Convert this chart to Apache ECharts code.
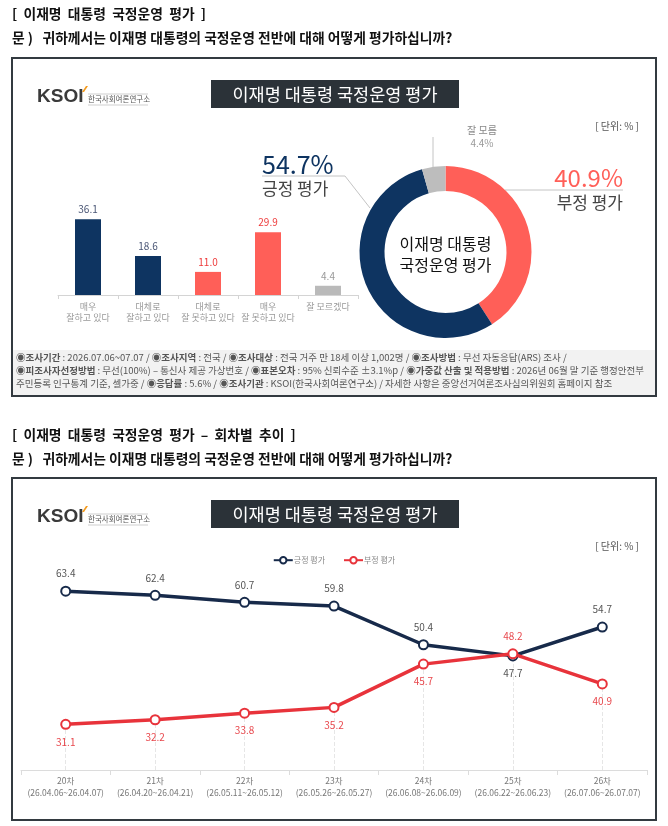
<!DOCTYPE html>
<html><head><meta charset="utf-8">
<script src="https://cdn.jsdelivr.net/npm/echarts@6/dist/echarts.min.js"></script>
<style>html,body{margin:0;padding:0;background:#fff}#c{width:668px;height:826px}</style>
</head><body><div id="c"></div>
<script>
// ---------- data ----------
const barCategories = ['매우\n잘하고 있다', '대체로\n잘하고 있다', '대체로\n잘 못하고 있다', '매우\n잘 못하고 있다', '잘 모르겠다'];
const barValues = [36.1, 18.6, 11.0, 29.9, 4.4];
const pieNames = ['부정 평가', '긍정 평가', '잘 모름'];
const pieValues = [40.9, 54.7, 4.4];
const roundLabels = ['20차', '21차', '22차', '23차', '24차', '25차', '26차'];
const roundDates = ['(26.04.06~26.04.07)', '(26.04.20~26.04.21)', '(26.05.11~26.05.12)', '(26.05.26~26.05.27)', '(26.06.08~26.06.09)', '(26.06.22~26.06.23)', '(26.07.06~26.07.07)'];
const positiveTrend = [63.4, 62.4, 60.7, 59.8, 50.4, 47.7, 54.7];
const negativeTrend = [31.1, 32.2, 33.8, 35.2, 45.7, 48.2, 40.9];
const seriesNames = ['긍정 평가', '부정 평가'];

// ---------- styles ----------
const F = '"Noto Sans CJK KR", "Noto Sans", sans-serif';
const NAVY = '#0e3461';
const SALMON = '#ff5f58';
const GRAY = '#bababa';
const LNAVY = '#172a4a';
const LRED = '#e8333b';

const chart = echarts.init(document.getElementById('c'), null, {renderer: 'canvas'});

function header(y1, t1, y2, t2) {
  return [
    {type: 'text', left: 12, top: y1 - 10, style: {text: t1, font: 'bold 13.8px ' + F, fill: '#111'}},
    {type: 'text', left: 12, top: y2 - 10, style: {text: t2, font: 'bold 13.8px ' + F, fill: '#111'}}
  ];
}
function logo(cy) {
  return [
    {type: 'text', left: 37, top: cy - 13, style: {text: 'KSOI', font: 'bold 19px "Liberation Sans", Arial, sans-serif', fill: '#3a3a3a'}},
    {type: 'polygon', shape: {points: [[82, cy - 8], [84, cy - 8], [88, cy - 14], [86, cy - 14]]}, style: {fill: '#f39a1e'}},
    {type: 'line', shape: {x1: 88, y1: cy - 6, x2: 148, y2: cy - 6}, style: {stroke: '#cfcfcf', lineWidth: 1}},
    {type: 'line', shape: {x1: 88, y1: cy + 5, x2: 148, y2: cy + 5}, style: {stroke: '#cfcfcf', lineWidth: 1}},
    {type: 'text', left: 88, top: cy - 5, style: {text: '한국사회여론연구소', font: '7.5px ' + F, fill: '#555'}}
  ];
}
function titleBar(top) {
  return [
    {type: 'rect', shape: {x: 211, y: top, width: 248, height: 28}, style: {fill: '#2b3238'}},
    {type: 'text', x: 335, y: top + 14, style: {text: '이재명 대통령 국정운영 평가', font: '17.5px ' + F, fill: '#fff', align: 'center', verticalAlign: 'middle'}}
  ];
}
function unit(cy) {
  return {type: 'text', x: 639, y: cy, style: {text: '[ 단위: % ]', font: '10px ' + F, fill: '#555', align: 'right', verticalAlign: 'middle'}};
}
const FS = 9.5;
const richFoot = {
  b: {fontFamily: F, fontSize: FS, fontWeight: 'bold', color: '#444'},
  n: {fontFamily: F, fontSize: FS, color: '#555'},
  g: {fontFamily: F, fontSize: FS, color: '#8a8a8a'}
};
const footLines = [
  '{b|◉조사기간}{n| : 2026.07.06~07.07 / }{b|◉조사지역}{n| : 전국 / }{b|◉조사대상}{n| : 전국 거주 만 18세 이상 1,002명 / }{b|◉조사방법}{n| : 무선 자동응답(ARS) 조사 /}',
  '{b|◉피조사자선정방법}{n| : 무선(100%) – 통신사 제공 가상번호 / }{b|◉표본오차}{n| : 95% 신뢰수준 ±3.1%p / }{b|◉가중값 산출 및 적용방법}{n| : 2026년 06월 말 기준 행정안전부}',
  '{n|주민등록 인구통계 기준, 셀가중 / }{b|◉응답률}{n| : 5.6% / }{b|◉조사기관}{n| : KSOI(한국사회여론연구소) / }{g|자세한 사항은 중앙선거여론조사심의위원회 홈페이지 참조}'
];

const graphics = [].concat(
  header(17, '[  이재명  대통령  국정운영  평가  ]', 41, '문 )   귀하께서는 이재명 대통령의 국정운영 전반에 대해 어떻게 평가하십니까?'),
  [{type: 'rect', shape: {x: 12, y: 58, width: 644, height: 338}, style: {fill: 'none', stroke: '#333a40', lineWidth: 2}}],
  logo(100), titleBar(80), [unit(126)],
  [{type: 'rect', shape: {x: 13, y: 350, width: 642, height: 45}, style: {fill: '#f2f2f2'}}],
  footLines.map((t, i) => ({type: 'text', left: 16, top: 353 + i * 13, style: {text: t, rich: richFoot, fill: '#555'}})),
  [{type: 'text', x: 445.5, y: 254, style: {text: '이재명 대통령\n국정운영 평가', font: '16px ' + F, fill: '#111', align: 'center', verticalAlign: 'middle', lineHeight: 21}}],
  header(438, '[  이재명  대통령  국정운영  평가  –  회차별  추이  ]', 462, '문 )   귀하께서는 이재명 대통령의 국정운영 전반에 대해 어떻게 평가하십니까?'),
  [{type: 'rect', shape: {x: 12, y: 478, width: 644, height: 342}, style: {fill: 'none', stroke: '#333a40', lineWidth: 2}}],
  logo(520), titleBar(500), [unit(546)]
);

const barColors = [NAVY, NAVY, SALMON, SALMON, GRAY];
const barLabelColors = ['#4a5675', '#4a5675', '#ee3a3a', '#ee3a3a', '#999'];

const pieColors = [SALMON, NAVY, '#bdbdbd'];
const pieLabelCfg = [
  {fmt: '{v|' + pieValues[0] + '%}\n{n|' + pieNames[0] + '}', rich: {v: {fontSize: 24, color: SALMON, lineHeight: 28, align: 'right', fontFamily: F}, n: {fontSize: 17, color: '#444', lineHeight: 22, align: 'right', fontFamily: F}}},
  {fmt: '{v|' + pieValues[1] + '%}\n{n|' + pieNames[1] + '}', rich: {v: {fontSize: 25, color: NAVY, lineHeight: 28, align: 'left', fontFamily: F}, n: {fontSize: 17, color: '#444', lineHeight: 22, align: 'left', fontFamily: F}}},
  {fmt: '{n|' + pieNames[2] + '}\n{v|' + pieValues[2] + '%}', rich: {n: {fontSize: 10, color: '#888', lineHeight: 13, align: 'center', fontFamily: F}, v: {fontSize: 10, color: '#999', lineHeight: 13, align: 'center', fontFamily: F}}}
];
const pieLayouts = [
  {x: 623, y: 164, align: 'right', verticalAlign: 'top', labelLinePoints: [[505, 190], [560, 190], [623, 190]]},
  {x: 262, y: 150, align: 'left', verticalAlign: 'top', labelLinePoints: [[370, 208], [345, 176], [262, 176]]},
  {x: 482, y: 124, align: 'center', verticalAlign: 'top', labelLinePoints: [[433, 167], [433, 150], [433, 137]]}
];

const option = {
  backgroundColor: '#fff',
  animation: false,
  textStyle: {fontFamily: F},
  graphic: graphics,
  legend: {
    data: seriesNames, top: 551, left: 'center', itemWidth: 19, itemHeight: 8, itemGap: 18,
    textStyle: {fontSize: 8, color: '#888', fontFamily: F, padding: [0, 0, 0, -4]}
  },
  grid: [
    {left: 58, width: 300, top: 211, height: 84},
    {left: 21, right: 21, top: 564, height: 206}
  ],
  xAxis: [
    {type: 'category', gridIndex: 0, data: barCategories,
      axisLine: {lineStyle: {color: '#d4d4d4'}}, axisTick: {show: true, length: 4, lineStyle: {color: '#d4d4d4'}},
      axisLabel: {fontSize: 9, color: '#999', lineHeight: 11, margin: 6, interval: 0, fontFamily: F}},
    {type: 'category', gridIndex: 1, data: roundLabels.map((r, i) => r + '\n' + roundDates[i]),
      axisLine: {lineStyle: {color: '#dcdcdc'}}, axisTick: {show: true, length: 5, lineStyle: {color: '#dcdcdc'}},
      axisLabel: {fontSize: 8.5, color: '#777', lineHeight: 12, margin: 5, interval: 0, fontFamily: F}}
  ],
  yAxis: [
    {type: 'value', gridIndex: 0, min: 0, max: 40, show: false, splitLine: {show: false}},
    {type: 'value', gridIndex: 1, min: 20, max: 70, show: false, splitLine: {show: false}}
  ],
  series: [
    {type: 'bar', xAxisIndex: 0, yAxisIndex: 0, barWidth: 26,
      data: barValues.map((v, i) => ({value: v, itemStyle: {color: barColors[i]}, label: {color: barLabelColors[i]}})),
      label: {show: true, position: 'top', distance: 5, fontSize: 10, fontFamily: F, formatter: p => p.value.toFixed(1)}},
    {type: 'pie', center: [445.5, 252], radius: [61, 86], startAngle: 90, clockwise: true,
      data: pieValues.map((v, i) => ({name: pieNames[i], value: v, itemStyle: {color: pieColors[i]},
        label: {formatter: pieLabelCfg[i].fmt, rich: pieLabelCfg[i].rich}})),
      label: {show: true, position: 'outside'},
      labelLine: {show: true, lineStyle: {color: '#c4c4c4', width: 1}},
      labelLayout: p => pieLayouts[p.dataIndex],
      emphasis: {disabled: true}},
    {type: 'line', name: seriesNames[0], xAxisIndex: 1, yAxisIndex: 1, z: 3,
      data: positiveTrend.map((v, i) => ({value: v, label: {position: i === 5 ? 'bottom' : 'top'}})),
      color: LNAVY, lineStyle: {width: 3.5, color: LNAVY},
      symbol: 'emptyCircle', symbolSize: 9, itemStyle: {color: LNAVY, borderWidth: 3},
      label: {show: true, distance: 7, fontSize: 10, color: '#555', fontFamily: F, formatter: p => p.value.toFixed(1)},
      markLine: {silent: true, symbol: ['none', 'none'], label: {show: false}, z: 1,
        lineStyle: {color: '#e6e6e6', type: 'dashed', width: 1},
        data: roundLabels.map((r, i) => [{xAxis: i, yAxis: 20}, {xAxis: i, yAxis: Math.min(positiveTrend[i], negativeTrend[i])}])}},
    {type: 'line', name: seriesNames[1], xAxisIndex: 1, yAxisIndex: 1, z: 4,
      data: negativeTrend.map((v, i) => ({value: v, label: {position: i === 5 ? 'top' : 'bottom'}})),
      color: LRED, lineStyle: {width: 3.5, color: LRED},
      symbol: 'emptyCircle', symbolSize: 9, itemStyle: {color: LRED, borderWidth: 3},
      label: {show: true, distance: 7, fontSize: 10, color: '#e8474c', fontFamily: F, formatter: p => p.value.toFixed(1)}}
  ]
};
chart.setOption(option);
</script></body></html>
